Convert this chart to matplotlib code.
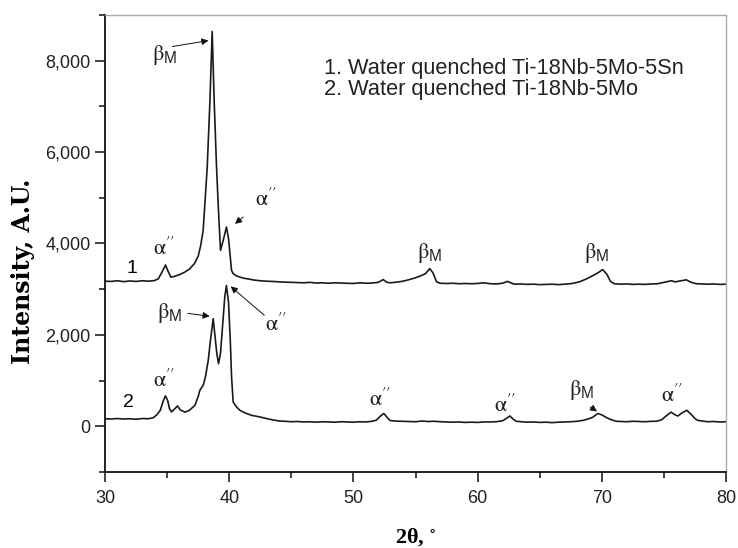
import matplotlib
matplotlib.use("Agg")
import matplotlib.pyplot as plt
from matplotlib.ticker import MultipleLocator

plt.rcParams['font.family'] = ['Liberation Sans', 'DejaVu Sans']
plt.rcParams['mathtext.fontset'] = 'stix'

# ---------------------------------------------------------------- data
# curve 1: water quenched Ti-18Nb-5Mo-5Sn
tt1 = [30.0, 30.5, 31.0, 31.5, 32.0, 32.5, 33.0, 33.5, 34.0, 34.3, 34.6, 34.87, 35.1, 35.3,
       35.6, 36.0, 36.4, 36.8, 37.2, 37.5, 37.7, 37.9, 38.05, 38.23, 38.45, 38.63, 38.79,
       38.98, 39.14, 39.3, 39.5, 39.78, 39.95, 40.06, 40.19, 40.32, 40.6, 41.1, 41.6, 42.0,
       42.5, 43.0, 43.5, 44.1, 44.5, 45.0, 45.5, 46.0, 46.5, 47.0, 47.5, 48.0, 48.5, 49.0,
       49.5, 50.0, 50.5, 51.0, 51.5, 52.0, 52.4, 52.7, 53.0, 53.5, 54.0, 54.5, 55.0, 55.4,
       55.8, 56.15, 56.4, 56.7, 57.0, 57.5, 58.0, 58.5, 59.0, 59.5, 60.0, 60.5, 61.0, 61.5,
       62.0, 62.4, 62.8, 63.0, 63.5, 64.0, 64.5, 65.0, 65.5, 66.0, 66.5, 67.0, 67.5, 68.2,
       68.8, 69.3, 69.7, 70.07, 70.4, 70.7, 71.0, 71.5, 72.0, 72.5, 73.0, 73.5, 74.0, 74.5,
       75.0, 75.6, 75.9, 76.2, 76.8, 77.2, 77.6, 78.0, 78.5, 79.0, 79.5, 80.0]
int1 = [3175, 3170, 3185, 3165, 3180, 3170, 3185, 3175, 3190, 3230, 3380, 3530, 3380, 3265,
        3280, 3320, 3370, 3440, 3560, 3720, 3950, 4280, 4900, 5670, 7125, 8640, 7125,
        5670, 4700, 3850, 4050, 4360, 4100, 3780, 3410, 3340, 3290, 3245, 3220, 3200,
        3185, 3175, 3170, 3160, 3155, 3150, 3145, 3140, 3150, 3135, 3140, 3130, 3140, 3135,
        3130, 3125, 3140, 3130, 3135, 3150, 3210, 3150, 3140, 3155, 3175, 3210, 3250, 3290,
        3340, 3450, 3360, 3160, 3130, 3125, 3130, 3120, 3125, 3120, 3125, 3140, 3120, 3115,
        3130, 3170, 3125, 3110, 3115, 3105, 3110, 3100, 3105, 3110, 3100, 3110, 3120, 3160,
        3230, 3300, 3360, 3430, 3330, 3170, 3120, 3110, 3115, 3105, 3110, 3105, 3115, 3120,
        3150, 3185, 3160, 3175, 3205, 3150, 3120, 3115, 3110, 3115, 3105, 3110]

# curve 2: water quenched Ti-18Nb-5Mo
tt2 = [30.0, 30.5, 31.0, 31.5, 32.0, 32.5, 33.0, 33.5, 33.9, 34.2, 34.45, 34.7, 34.87, 35.05,
       35.2, 35.36, 35.6, 35.84, 36.05, 36.44, 36.8, 37.24, 37.5, 37.64, 37.91, 38.1, 38.31,
       38.5, 38.71, 38.85, 39.0, 39.14, 39.3, 39.5, 39.65, 39.78, 39.95, 40.1, 40.19, 40.32,
       40.6, 40.86, 41.3, 41.8, 42.47, 43.0, 43.5, 44.08, 44.5, 45.0, 45.5, 46.0, 46.5, 47.0,
       47.5, 48.0, 48.5, 49.0, 49.5, 50.0, 50.5, 51.0, 51.5, 51.86, 52.2, 52.45, 52.7, 52.93,
       53.3, 53.8, 54.3, 55.0, 55.5, 56.0, 56.5, 57.0, 57.5, 58.0, 58.5, 59.0, 59.5, 60.0,
       60.5, 61.0, 61.5, 62.0, 62.3, 62.6, 62.85, 63.1, 63.5, 64.0, 64.5, 65.0, 65.5, 66.0,
       66.5, 67.0, 67.5, 68.0, 68.5, 69.0, 69.28, 69.68, 70.0, 70.35, 70.7, 71.16, 71.6, 72.0,
       72.5, 73.0, 73.5, 74.0, 74.38, 74.8, 75.2, 75.58, 75.9, 76.12, 76.5, 76.84, 77.2, 77.5,
       77.73, 78.2, 78.6, 79.0, 79.5, 80.0]
int2 = [165, 160, 170, 160, 165, 155, 170, 165, 190, 260, 350, 560, 665, 560,
        380, 315, 380, 445, 360, 310, 350, 460, 650, 790, 900, 1100, 1440,
        1900, 2355, 2000, 1600, 1370, 1600, 2300, 2850, 3080, 2700, 1800, 1080, 530,
        420, 350, 290, 240, 205, 170, 140, 115, 110, 100, 105, 95, 100, 90,
        100, 95, 90, 100, 95, 90, 100, 95, 110, 135, 230, 280, 200, 130,
        115, 110, 105, 100, 115, 105, 110, 100, 95, 90, 95, 85, 90, 85,
        95, 95, 100, 120, 170, 225, 160, 110, 100, 90, 95, 85, 90, 80,
        90, 95, 100, 110, 130, 170, 200, 280, 250, 195, 150, 110, 105, 100,
        110, 105, 100, 110, 110, 140, 230, 310, 250, 225, 300, 350, 260, 170,
        130, 110, 100, 105, 95, 100]

xticks = [30, 40, 50, 60, 70, 80]
yticks = [0, 2000, 4000, 6000, 8000]
ytick_labels = ["0", "2,000", "4,000", "6,000", "8,000"]
legend_lines = ["1. Water quenched Ti-18Nb-5Mo-5Sn", "2. Water quenched Ti-18Nb-5Mo"]

# ---------------------------------------------------------------- figure
fig = plt.figure(figsize=(7.38, 5.48), dpi=100)
ax = fig.add_axes([105 / 738, 1 - 472 / 548, 621 / 738, 457 / 548])

ax.plot(tt1, int1, color="#1a1a1a", lw=1.2)
ax.plot(tt2, int2, color="#1a1a1a", lw=1.2)

ax.set_xlim(30, 80)
ax.set_ylim(-1000, 9000)
ax.set_xticks(xticks)
ax.set_yticks(yticks)
ax.set_yticklabels(ytick_labels)
ax.xaxis.set_minor_locator(MultipleLocator(5))
ax.yaxis.set_minor_locator(MultipleLocator(1000))
ax.tick_params(which="both", direction="out", labelsize=13, colors="#222222", width=1.2)
ax.tick_params(which="major", length=7)
ax.tick_params(which="minor", length=4)
ax.tick_params(axis="x", pad=6)
ax.tick_params(top=False, right=False)

for s in ["left", "bottom"]:
    ax.spines[s].set_linewidth(1.3)
    ax.spines[s].set_color("#111111")
for s in ["top", "right"]:
    ax.spines[s].set_linewidth(1.0)
    ax.spines[s].set_color("#aaaaaa")

ax.set_xlabel(r"2$\mathregular{\theta}$, $^{\circ}$", family="Liberation Serif",
              fontweight="bold", fontsize=16, labelpad=14)
ax.set_ylabel("Intensity, A.U.", family="DejaVu Serif", fontweight="bold", fontsize=17)
ax.yaxis.set_label_coords(-0.113, 0.44)

# legend text
ax.text(47.6, 7825, legend_lines[0], fontsize=15.7, va="center", color="#222222")
ax.text(47.6, 7365, legend_lines[1], fontsize=15.7, va="center", color="#222222")

# curve numbers
ax.text(32.2, 3450, "1", fontsize=14, ha="center", va="center")
ax.text(31.9, 520, "2", fontsize=14, ha="center", va="center")

bm = r"$\mathrm{\beta}_\mathregular{M}$"
al = r"$\mathrm{\alpha}^{\prime\prime}$"
lab = dict(fontsize=16, ha="center", va="center", color="#222222")

# curve 1 labels
ax.text(34.8, 8120, bm, **lab)
ax.text(34.8, 3880, al, **lab)
ax.text(43.0, 4950, al, **lab)
ax.text(56.15, 3800, bm, **lab)
ax.text(69.55, 3800, bm, **lab)

# curve 2 labels
ax.text(35.2, 2470, bm, **lab)
ax.text(43.8, 2230, al, **lab)
ax.text(34.8, 990, al, **lab)
ax.text(52.15, 580, al, **lab)
ax.text(62.2, 440, al, **lab)
ax.text(68.35, 800, bm, **lab)
ax.text(75.7, 670, al, **lab)

arr = dict(arrowstyle="-|>", color="#111111", lw=0.7, mutation_scale=10)
ax.annotate("", xy=(38.55, 8450), xytext=(35.2, 8300), arrowprops=arr)
ax.annotate("", xy=(40.3, 4390), xytext=(41.3, 4620), arrowprops=arr)
ax.annotate("", xy=(38.65, 2400), xytext=(36.45, 2480), arrowprops=arr)
ax.annotate("", xy=(39.95, 3100), xytext=(43.0, 2390), arrowprops=arr)
ax.annotate("", xy=(69.8, 290), xytext=(68.9, 460), arrowprops=arr)

fig.savefig("out.png", dpi=100)
